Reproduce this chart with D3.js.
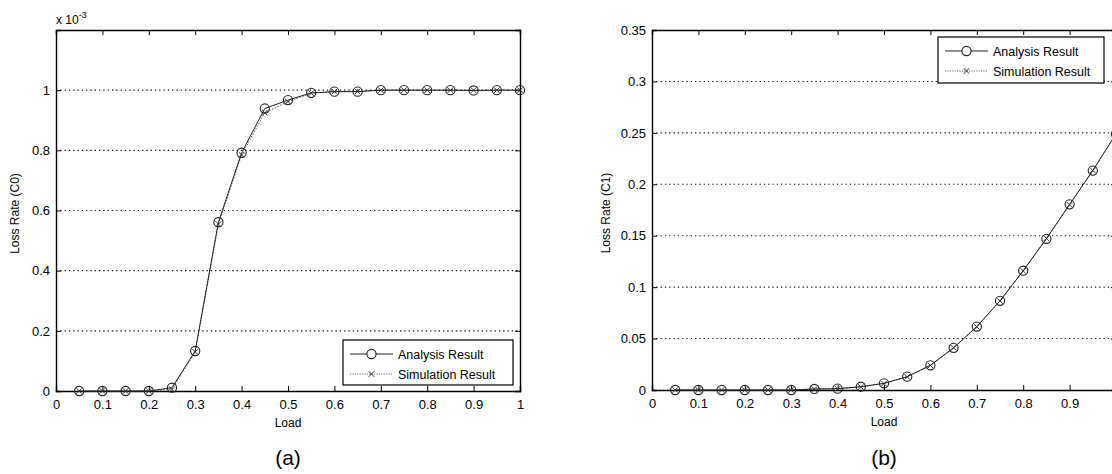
<!DOCTYPE html>
<html>
<head>
<meta charset="utf-8">
<script src="https://cdn.jsdelivr.net/npm/d3@7"></script>
<style>
  body { margin: 0; background: #fff; }
  text { font-family: "Liberation Sans", Arial, sans-serif; fill: #000; }
</style>
</head>
<body>
<div id="chart"></div>
<script>
// load values shared by both panels
const load = [0.05, 0.1, 0.15, 0.2, 0.25, 0.3, 0.35, 0.4, 0.45, 0.5,
              0.55, 0.6, 0.65, 0.7, 0.75, 0.8, 0.85, 0.9, 0.95, 1.0];

// panel (a): loss rate C0, in units of 1e-3
const analysisC0 = [0, 0, 0, 0, 0.011, 0.133, 0.561, 0.792, 0.939, 0.967,
                    0.991, 0.995, 0.995, 1.0, 1.0, 1.0, 1.0, 0.999, 1.0, 1.0];
const simulationC0 = [0, 0, 0, 0, 0.005, 0.13, 0.555, 0.785, 0.925, 0.962,
                      0.99, 0.995, 0.996, 1.0, 1.0, 1.0, 1.0, 1.0, 1.0, 1.0];

// panel (b): loss rate C1
const analysisC1 = [0, 0, 0, 0, 0, 0, 0.001, 0.0013, 0.0032, 0.0065,
                    0.013, 0.024, 0.041, 0.0617, 0.0867, 0.116, 0.147, 0.1805, 0.2133, 0.249];
const simulationC1 = [0, 0, 0, 0, 0, 0, 0.0008, 0.0012, 0.003, 0.0062,
                      0.0128, 0.0238, 0.041, 0.0615, 0.0865, 0.1158, 0.1475, 0.18, 0.2135, 0.249];

const xTicks = [0, 0.1, 0.2, 0.3, 0.4, 0.5, 0.6, 0.7, 0.8, 0.9, 1];
const yTicksA = [0, 0.2, 0.4, 0.6, 0.8, 1.0, 1.2];
const yTicksB = [0, 0.05, 0.1, 0.15, 0.2, 0.25, 0.3, 0.35];
const legendLabels = ["Analysis Result", "Simulation Result"];

const W = 1112, H = 474;
const svg = d3.select("#chart").append("svg")
  .attr("width", W).attr("height", H)
  .style("display", "block");
svg.append("rect").attr("width", W).attr("height", H).attr("fill", "#fff");

function drawPanel(p) {
  const x = d3.scaleLinear().domain([0, 1]).range([p.left, p.right]);
  const y = d3.scaleLinear().domain(p.yDomain).range([p.bottom, p.top]);
  const g = svg.append("g");

  // horizontal dotted grid
  g.selectAll(".grid").data(p.yTicks.filter(t => t > 0 && t < p.yDomain[1] - 1e-9))
    .join("line")
    .attr("x1", p.left).attr("x2", p.right)
    .attr("y1", d => y(d)).attr("y2", d => y(d))
    .attr("stroke", "#111").attr("stroke-width", 1.1)
    .attr("stroke-dasharray", "1.3,3");

  // axes with inward ticks
  const fmt = d => d3.format("~g")(+d.toFixed(4));
  g.append("g").attr("transform", `translate(0,${p.bottom})`)
    .call(d3.axisBottom(x).tickValues(xTicks).tickSize(-5).tickPadding(9)
      .tickFormat(d => p.xLabels.includes(d) ? fmt(d) : ""));
  g.append("g").attr("transform", `translate(0,${p.top})`)
    .call(d3.axisTop(x).tickValues(xTicks).tickSize(-5).tickFormat(""));
  g.append("g").attr("transform", `translate(${p.left},0)`)
    .call(d3.axisLeft(y).tickValues(p.yTicks).tickSize(-5).tickPadding(6)
      .tickFormat(d => p.yLabels.includes(+d.toFixed(4)) ? fmt(d) : ""));
  g.append("g").attr("transform", `translate(${p.right},0)`)
    .call(d3.axisRight(y).tickValues(p.yTicks).tickSize(-5).tickFormat(""));
  g.selectAll(".domain").attr("stroke", "#000").attr("stroke-width", 1.4);
  g.selectAll(".tick line").attr("stroke", "#000");
  g.selectAll(".tick text").attr("font-size", 13)
    .attr("font-family", "Liberation Sans, Arial, sans-serif").attr("fill", "#000");

  const line = d3.line().x((d, i) => x(load[i])).y(d => y(d));

  // simulation: dotted line with x markers
  g.append("path").datum(p.sim).attr("d", line)
    .attr("fill", "none").attr("stroke", "#555").attr("stroke-width", 1)
    .attr("stroke-dasharray", "1.5,1.5");
  // analysis: solid line with circles
  g.append("path").datum(p.ana).attr("d", line)
    .attr("fill", "none").attr("stroke", "#222").attr("stroke-width", 1);

  g.selectAll(".mk").data(p.ana).join("circle")
    .attr("cx", (d, i) => x(load[i])).attr("cy", d => y(d)).attr("r", 4.6)
    .attr("fill", "none").attr("stroke", "#222").attr("stroke-width", 1.1);
  g.selectAll(".sx").data(p.sim).join("path")
    .attr("transform", (d, i) => `translate(${x(load[i])},${y(d)})`)
    .attr("d", d3.symbol().type(d3.symbolTimes).size(22))
    .attr("fill", "none").attr("stroke", "#333").attr("stroke-width", 1);

  // axis labels
  g.append("text").attr("x", (p.left + p.right) / 2).attr("y", p.bottom + 36)
    .attr("text-anchor", "middle").attr("font-size", 12).text("Load");
  g.append("text")
    .attr("transform", `translate(${p.yLabelX},${(p.top + p.bottom) / 2 + 3}) rotate(-90)`)
    .attr("text-anchor", "middle").attr("font-size", 12).text(p.yTitle);
  g.append("text").attr("x", p.captionX).attr("y", 465)
    .attr("text-anchor", "middle").attr("font-size", 21).text(p.caption);

  // legend
  const L = p.legend;
  g.append("rect").attr("x", L.x).attr("y", L.y).attr("width", L.w).attr("height", L.h)
    .attr("fill", "#fff").attr("stroke", "#000").attr("stroke-width", 1.2);
  legendLabels.forEach((lab, i) => {
    const cy = L.y + 14 + i * 20;
    const x0 = L.x + 7, x1 = L.x + 50, xm = (x0 + x1) / 2;
    g.append("line").attr("x1", x0).attr("x2", x1).attr("y1", cy).attr("y2", cy)
      .attr("stroke", i ? "#666" : "#222").attr("stroke-width", 1)
      .attr("stroke-dasharray", i ? "1.2,1.2" : null);
    if (i === 0) {
      g.append("circle").attr("cx", xm).attr("cy", cy).attr("r", 4.6)
        .attr("fill", "#fff").attr("stroke", "#222").attr("stroke-width", 1.1);
    } else {
      g.append("path").attr("transform", `translate(${xm},${cy})`)
        .attr("d", d3.symbol().type(d3.symbolTimes).size(22))
        .attr("fill", "none").attr("stroke", "#333");
    }
    g.append("text").attr("x", L.x + 55).attr("y", cy + 4.5)
      .attr("font-size", 12.5).text(lab);
  });
  return g;
}

const gA = drawPanel({
  left: 56, right: 520, top: 30, bottom: 391,
  yDomain: [0, 1.2], yTicks: yTicksA, yLabels: [0, 0.2, 0.4, 0.6, 0.8, 1],
  xLabels: xTicks,
  ana: analysisC0, sim: simulationC0,
  yTitle: "Loss Rate (C0)", yLabelX: 19, caption: "(a)", captionX: 288,
  legend: { x: 343, y: 340, w: 170, h: 45 }
});
gA.append("text").attr("x", 56).attr("y", 24).attr("font-size", 12)
  .text("x 10").append("tspan").attr("dy", -6).attr("font-size", 9).text("-3");

drawPanel({
  left: 652, right: 1116, top: 30, bottom: 390,
  yDomain: [0, 0.35], yTicks: yTicksB, yLabels: yTicksB,
  xLabels: xTicks.slice(0, 10),
  ana: analysisC1, sim: simulationC1,
  yTitle: "Loss Rate (C1)", yLabelX: 610, caption: "(b)", captionX: 884,
  legend: { x: 938, y: 37, w: 166, h: 46 }
});
</script>
</body>
</html>
